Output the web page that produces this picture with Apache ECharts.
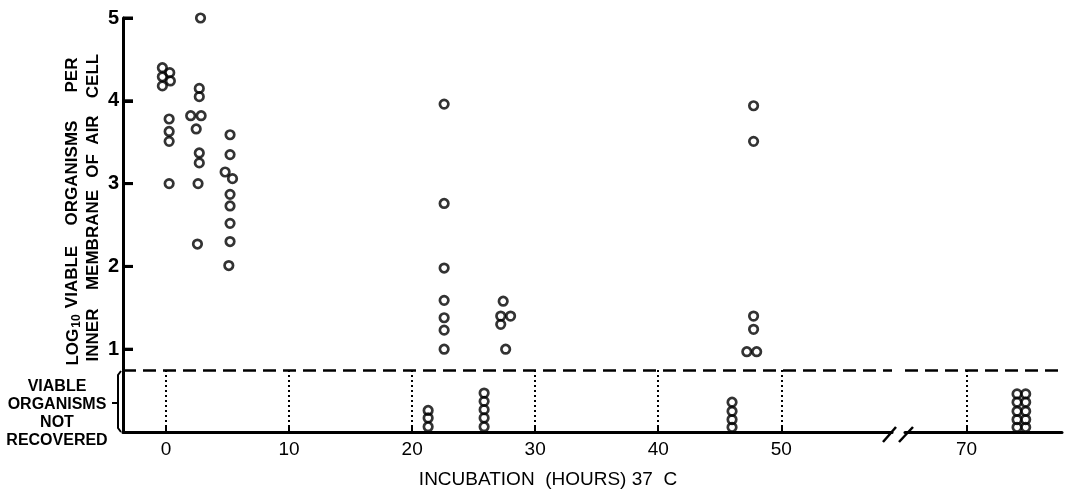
<!DOCTYPE html>
<html>
<head>
<meta charset="utf-8">
<script src="https://cdn.jsdelivr.net/npm/echarts@6/dist/echarts.min.js"></script>
<style>
  html, body { margin: 0; padding: 0; background: #fff; }
  #main { width: 1071px; height: 493px; }
</style>
</head>
<body>
<div id="main"></div>
<script>
// recovered counts: incubation hours vs log10 viable organisms
const recoveredHours = [
  -0.3, 0.3, -0.3, 0.35, -0.3, 0.25, 0.25, 0.25, 0.25,
  2.8, 2.7, 2.7, 2.0, 2.85, 2.45, 2.7, 2.7, 2.6, 2.55,
  5.2, 5.2, 4.8, 5.4, 5.2, 5.2, 5.2, 5.2, 5.1,
  22.6, 22.6, 22.6, 22.6, 22.6, 22.6, 22.6,
  27.4, 27.2, 28.0, 27.2, 27.6,
  47.75, 47.75, 47.75, 47.75, 47.2, 48.0
];
const recoveredLog = [
  4.40, 4.34, 4.29, 4.24, 4.18, 3.78, 3.63, 3.51, 3.00,
  5.00, 4.15, 4.05, 3.82, 3.82, 3.66, 3.37, 3.25, 3.00, 2.27,
  3.59, 3.35, 3.14, 3.06, 2.87, 2.73, 2.52, 2.30, 2.01,
  3.96, 2.76, 1.98, 1.59, 1.38, 1.23, 1.00,
  1.58, 1.40, 1.40, 1.30, 1.00,
  3.94, 3.51, 1.40, 1.24, 0.97, 0.97
];
// eggs with no viable organisms recovered (stacked under the dashed line)
const lostHours = [
  21.3, 21.3, 21.3,
  25.85, 25.85, 25.85, 25.85, 25.85,
  46.0, 46.0, 46.0, 46.0,
  74.1, 74.1, 74.1, 74.1, 74.1,
  74.8, 74.8, 74.8, 74.8, 74.8
];
const lostLevel = [
  0.26, 0.17, 0.064,
  0.47, 0.37, 0.27, 0.17, 0.064,
  0.36, 0.25, 0.15, 0.057,
  0.46, 0.36, 0.25, 0.15, 0.057,
  0.46, 0.36, 0.25, 0.15, 0.057
];
const xTicksLeft = [0, 10, 20, 30, 40, 50];
const xTicksRight = [70];
const yTicks = [1, 2, 3, 4, 5];
const limitLine = 0.75;
const breakAt = 60;

const font = 'Liberation Sans, Arial, sans-serif';

const recLeft = [], lostLeft = [], lostRight = [];
recoveredHours.forEach((h, i) => recLeft.push([h, recoveredLog[i]]));
lostHours.forEach((h, i) => {
  if (h < breakAt) lostLeft.push([h, lostLevel[i]]);
  else lostRight.push([h, lostLevel[i]]);
});

const circle = {
  type: 'scatter',
  symbol: 'circle',
  symbolSize: 8.5,
  clip: false,
  itemStyle: { color: 'rgba(0,0,0,0)', borderColor: '#000', borderWidth: 2.7 },
  silent: true
};

function dotted(values) {
  return values.map(v => [
    { coord: [v, 0], lineStyle: { type: [2, 3], width: 2, color: '#000' } },
    { coord: [v, limitLine] }
  ]);
}

function vword(x, y, text) {
  return {
    type: 'text', x: x, y: y, rotation: Math.PI / 2,
    style: { text: text, font: 'bold 17px ' + font, fill: '#000', align: 'center', verticalAlign: 'middle' }
  };
}

const chart = echarts.init(document.getElementById('main'), null, { renderer: 'canvas' });

const xAxisBase = {
  type: 'value',
  axisLine: { show: true, onZero: false, lineStyle: { color: '#000', width: 3 } },
  axisLabel: { color: '#000', fontSize: 19, fontFamily: font, margin: 8 },
  splitLine: { show: false }
};

chart.setOption({
  animation: false,
  backgroundColor: '#fff',
  grid: [
    { left: 123, right: 179, top: 18, bottom: 61 },
    { left: 905, right: 9, top: 18, bottom: 61 }
  ],
  xAxis: [
    Object.assign({}, xAxisBase, {
      gridIndex: 0, min: -3.5, max: 59,
      axisTick: { show: true, inside: true, length: 6, lineStyle: { width: 2, color: '#000' }, customValues: xTicksLeft },
      axisLabel: Object.assign({}, xAxisBase.axisLabel, { customValues: xTicksLeft })
    }),
    Object.assign({}, xAxisBase, {
      gridIndex: 1, min: 65, max: 77.75,
      axisTick: { show: true, inside: true, length: 6, lineStyle: { width: 2, color: '#000' }, customValues: xTicksRight },
      axisLabel: Object.assign({}, xAxisBase.axisLabel, { customValues: xTicksRight })
    })
  ],
  yAxis: [
    {
      gridIndex: 0, type: 'value', min: 0, max: 5, interval: 1,
      axisLine: { show: true, onZero: false, lineStyle: { color: '#000', width: 3 } },
      axisTick: { show: true, inside: true, length: 10, lineStyle: { width: 3, color: '#000' } },
      axisLabel: {
        color: '#000', fontSize: 20, fontWeight: 'bold', fontFamily: font, margin: 4,
        formatter: v => (yTicks.indexOf(v) >= 0 ? String(v) : '')
      },
      splitLine: { show: false }
    },
    {
      gridIndex: 1, type: 'value', min: 0, max: 5, show: false
    }
  ],
  series: [
    Object.assign({}, circle, {
      name: 'recovered', xAxisIndex: 0, yAxisIndex: 0, data: recLeft,
      markLine: {
        silent: true, symbol: 'none', label: { show: false },
        lineStyle: { color: '#000', type: [13, 7], width: 2.5 },
        data: [
          [{ coord: [-3.5, limitLine] }, { coord: [59, limitLine] }]
        ].concat(dotted(xTicksLeft))
      }
    }),
    Object.assign({}, circle, { name: 'not recovered', xAxisIndex: 0, yAxisIndex: 0, data: lostLeft }),
    Object.assign({}, circle, {
      name: 'not recovered 70h', xAxisIndex: 1, yAxisIndex: 1, data: lostRight,
      markLine: {
        silent: true, symbol: 'none', label: { show: false },
        lineStyle: { color: '#000', type: [13, 7], width: 2.5 },
        data: [
          [{ coord: [65, limitLine] }, { coord: [77.75, limitLine] }]
        ].concat(dotted(xTicksRight))
      }
    })
  ]
});

// pixel positions of the limit line and the axis corner, through the axis scale
const pTop = chart.convertToPixel({ gridIndex: 0 }, [-3.5, limitLine]);
const pBottom = chart.convertToPixel({ gridIndex: 0 }, [-3.5, 0]);

const labels = [
  // y axis title, two justified lines
  vword(72, 75, 'PER'),
  vword(72, 173, 'ORGANISMS'),
  vword(72, 277, 'VIABLE'),
  { type: 'text', x: 73, y: 340, rotation: Math.PI / 2, style: {
    text: '{a|LOG}{s|10}', fill: '#000', align: 'center', verticalAlign: 'middle',
    rich: {
      a: { fontSize: 17, fontWeight: 'bold', fontFamily: font, fill: '#000' },
      s: { fontSize: 12, fontWeight: 'bold', fontFamily: font, fill: '#000', padding: [8, 0, 0, 1] }
    }
  } },
  vword(93, 76, 'CELL'),
  vword(93, 130, 'AIR'),
  vword(93, 166, 'OF'),
  vword(93, 240, 'MEMBRANE'),
  vword(93, 335, 'INNER'),
  // below the limit the y line is dashed: mask the solid axis, redraw dashed
  { type: 'rect', shape: { x: pTop[0] - 3, y: pTop[1] + 2, width: 6, height: pBottom[1] - pTop[1] - 4 }, style: { fill: '#fff' } },
  { type: 'line', shape: { x1: pTop[0], y1: pTop[1], x2: pBottom[0], y2: pBottom[1] }, style: { stroke: '#000', lineWidth: 2, lineDash: [6, 4] } },
  // not recovered label + brace
  { type: 'text', x: 57, y: 414, style: {
    text: 'VIABLE\nORGANISMS\nNOT\nRECOVERED', font: 'bold 16px ' + font, fill: '#000',
    align: 'center', verticalAlign: 'middle', lineHeight: 18
  } },
  { type: 'polyline', shape: { points: [[121, 371], [118, 375], [118, 428], [121, 432]] }, style: { stroke: '#000', lineWidth: 2, fill: null } },
  { type: 'line', shape: { x1: 112, y1: 403, x2: 118, y2: 403 }, style: { stroke: '#000', lineWidth: 2 } },
  // axis break
  { type: 'line', shape: { x1: 883, y1: 442, x2: 896, y2: 427 }, style: { stroke: '#000', lineWidth: 2.5 } },
  { type: 'line', shape: { x1: 899, y1: 442, x2: 913, y2: 427 }, style: { stroke: '#000', lineWidth: 2.5 } },
  // x axis title
  { type: 'text', x: 548, y: 480, style: { text: 'INCUBATION  (HOURS) 37  C', font: '19px ' + font, fill: '#000', align: 'center', verticalAlign: 'middle' } }
];

// inward y ticks again on top, placed through the axis scale
const tickMarks = yTicks.map(v => {
  const p = chart.convertToPixel({ gridIndex: 0 }, [-3.5, v]);
  return {
    type: 'line', shape: { x1: p[0], y1: p[1], x2: p[0] + 10, y2: p[1] },
    style: { stroke: '#000', lineWidth: 3 }
  };
});
chart.setOption({ graphic: labels.concat(tickMarks) });
</script>
</body>
</html>
